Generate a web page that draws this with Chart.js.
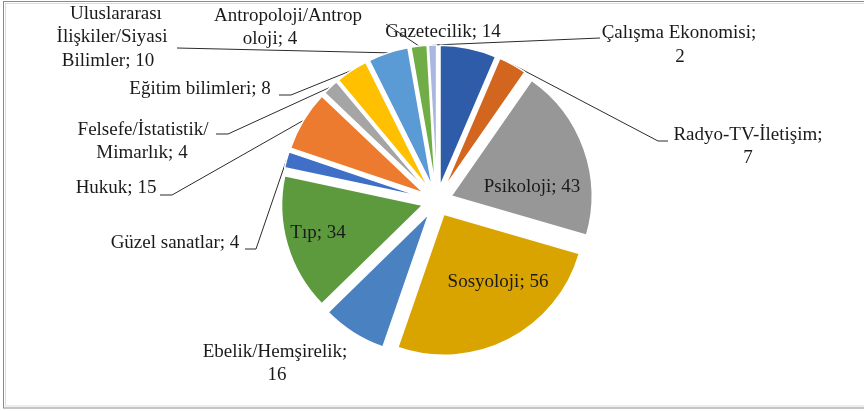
<!DOCTYPE html>
<html><head><meta charset="utf-8">
<script src="https://cdn.jsdelivr.net/npm/chart.js@4/dist/chart.umd.min.js"></script>
<style>html,body{margin:0;padding:0;background:#fff;}#wrap{width:864px;height:411px;}</style>
</head><body><div id="wrap"><canvas id="c" width="864" height="411"></canvas></div>
<script>
// ---- data ----
const categories = ["Gazetecilik","Radyo-TV-İletişim","Psikoloji","Sosyoloji","Ebelik/Hemşirelik","Tıp","Güzel sanatlar","Hukuk","Felsefe/İstatistik/Mimarlık","Eğitim bilimleri","Uluslararası İlişkiler/Siyasi Bilimler","Antropoloji/Antropoloji","Çalışma Ekonomisi"];
const values = [14,7,43,56,16,34,4,15,4,8,10,4,2];

// ---- style / layout ----
const sliceColors = ['#2F5CA8','#D2661F','#979797','#D9A300','#4A81C1','#5C9A3D','#3F6FC6','#EC7B30','#A5A5A5','#FFC000','#5B9BD5','#70AD47','#A9B7DE'];
const explodePx = 15;
const pieRadius = 141;
const FONT = '19px "Liberation Serif", "Times New Roman", serif';
// per-label: character split points, line centres, leader start points
const labelLayout = [
  {splits:[],      pos:[[443,32]]},
  {splits:[18],    pos:[[748,135],[748,158]], lead:[[668,141],[658,141]]},
  {splits:[],      pos:[[532,187]]},
  {splits:[],      pos:[[498,282]]},
  {splits:[18],    pos:[[275,352],[277,375]]},
  {splits:[],      pos:[[318,233]]},
  {splits:[],      pos:[[175,243]], lead:[[245,249],[256,249]]},
  {splits:[],      pos:[[116,188]], lead:[[160,195],[172,195]]},
  {splits:[19],    pos:[[143,130],[142,153]], lead:[[216,134],[228,134]]},
  {splits:[],      pos:[[200,89]], lead:[[279,95],[291,95]]},
  {splits:[12,29], pos:[[116,14],[112,37],[108,61]], lead:[[177,48]]},
  {splits:[18],    pos:[[288,16],[270,39]], lead:[[386,24]]},
  {splits:[18],    pos:[[679,33],[680,57]], lead:[[600,38]]}
];

function labelLines(i){
  const s = categories[i] + '; ' + values[i];
  const sp = labelLayout[i].splits;
  const out = []; let p = 0;
  sp.forEach(q => { out.push(s.slice(p,q).trim()); p = q; });
  out.push(s.slice(p).trim());
  return out;
}
function anchorOf(chart, i){
  const arc = chart.getDatasetMeta(0).data[i];
  const mid = (arc.startAngle + arc.endAngle)/2;
  const r = arc.outerRadius + explodePx;
  return [arc.x + Math.cos(mid)*r, arc.y + Math.sin(mid)*r];
}

const explodePlugin = {
  id:'explode',
  beforeDatasetsDraw(chart){
    const meta = chart.getDatasetMeta(0);
    meta.data.forEach(arc => {
      if (arc._wrapped) return;
      const orig = arc.draw;
      arc.draw = function(ctx, ...rest){
        const mid = (this.startAngle + this.endAngle)/2;
        ctx.save();
        ctx.translate(Math.cos(mid)*explodePx, Math.sin(mid)*explodePx);
        orig.call(this, ctx, ...rest);
        ctx.restore();
      };
      arc._wrapped = true;
    });
    // leader lines (under slices)
    const ctx = chart.ctx;
    ctx.save();
    ctx.strokeStyle = '#2b2b2b'; ctx.lineWidth = 1;
    labelLayout.forEach((L,i) => {
      if (!L.lead) return;
      const a = anchorOf(chart, i);
      ctx.beginPath();
      ctx.moveTo(L.lead[0][0], L.lead[0][1]);
      for (let k=1;k<L.lead.length;k++) ctx.lineTo(L.lead[k][0], L.lead[k][1]);
      ctx.lineTo(a[0], a[1]);
      ctx.stroke();
    });
    ctx.restore();
  },
  afterDatasetsDraw(chart){
    const ctx = chart.ctx;
    ctx.save();
    ctx.font = FONT; ctx.fillStyle = '#1a1a1a';
    ctx.textAlign = 'center'; ctx.textBaseline = 'middle';
    labelLayout.forEach((L,i) => {
      labelLines(i).forEach((t,k) => ctx.fillText(t, L.pos[k][0], L.pos[k][1]));
    });
    ctx.restore();
  },
  afterDraw(chart){
    const ctx = chart.ctx;
    ctx.save();
    ctx.strokeStyle = '#8a8a8a'; ctx.lineWidth = 1;
    ctx.strokeRect(3.5, 1.5, 880, 406.5);
    ctx.strokeStyle = '#dcdcdc';
    ctx.strokeRect(5.5, 3.5, 880, 402.5);
    ctx.restore();
  }
};

new Chart(document.getElementById('c'), {
  type:'pie',
  data:{labels:categories, datasets:[{data:values, backgroundColor:sliceColors, borderColor:'#ffffff', borderWidth:1.5, radius:pieRadius}]},
  options:{
    responsive:false, animation:false, events:[],
    layout:{padding:{left:10,right:0,top:0,bottom:9}},
    plugins:{legend:{display:false}, tooltip:{enabled:false}}
  },
  plugins:[explodePlugin]
});
</script></body></html>
